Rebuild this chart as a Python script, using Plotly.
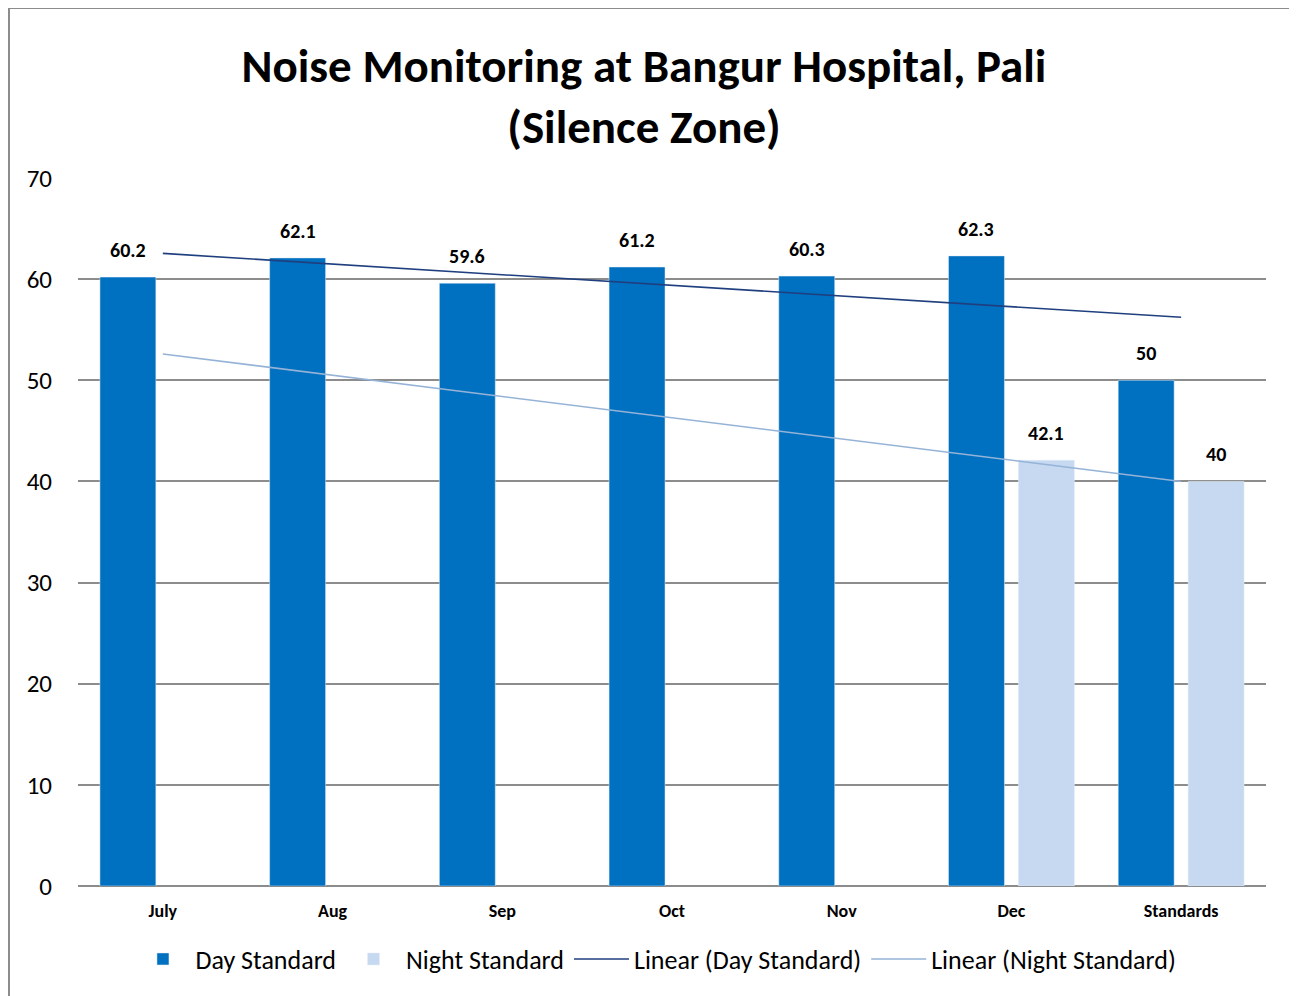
import numpy as np
import plotly.graph_objects as go

categories = ["July", "Aug", "Sep", "Oct", "Nov", "Dec", "Standards"]
day_standard = [60.2, 62.1, 59.6, 61.2, 60.3, 62.3, 50]
night_standard = [None, None, None, None, None, 42.1, 40]
y_ticks = [0, 10, 20, 30, 40, 50, 60, 70]

FONT = "Carlito, Calibri, Lato, sans-serif"


def linear_trend(values):
    xs = np.array([i + 1 for i, v in enumerate(values) if v is not None], dtype=float)
    ys = np.array([v for v in values if v is not None], dtype=float)
    slope, intercept = np.polyfit(xs, ys, 1)
    all_x = np.arange(1, len(values) + 1)
    return list(slope * all_x + intercept)


day_trend = linear_trend(day_standard)
night_trend = linear_trend(night_standard)

label_font = dict(family=FONT, size=20, color="black", weight="bold")

fig = go.Figure()
fig.add_trace(go.Bar(
    x=categories, y=day_standard, name="Day Standard",
    marker=dict(color="#0070C0"),
))
fig.add_trace(go.Bar(
    x=categories, y=night_standard, name="Night Standard",
    marker=dict(color="#C6D9F1"),
))
fig.add_trace(go.Scatter(
    x=categories, y=day_trend, mode="lines", name="Linear (Day Standard)",
    line=dict(color="#1F3F7F", width=1.6),
))
fig.add_trace(go.Scatter(
    x=categories, y=night_trend, mode="lines", name="Linear (Night Standard)",
    line=dict(color="#95B3D7", width=1.6),
))

# data labels above bars
for cat, v in zip(categories, day_standard):
    if v is not None:
        fig.add_annotation(x=cat, y=v, text=str(v), showarrow=False,
                           xshift=-35, yshift=13, yanchor="bottom", font=label_font)
for cat, v in zip(categories, night_standard):
    if v is not None:
        fig.add_annotation(x=cat, y=v, text=str(v), showarrow=False,
                           xshift=35, yshift=13, yanchor="bottom", font=label_font)

# plot area in figure pixels: x 70..1258, y 170..878
L, T, PW, PH = 70, 170, 1188, 708
W, H = 1297, 996

fig.update_layout(
    width=W, height=H,
    margin=dict(l=L, r=W - L - PW, t=T, b=H - T - PH),
    paper_bgcolor="white", plot_bgcolor="white",
    barmode="group", bargap=0.176, bargroupgap=0.2,
    font=dict(family=FONT, color="black"),
    title=dict(
        text="Noise Monitoring at Bangur Hospital, Pali<br>(Silence Zone)",
        x=(636) / W, xanchor="center", y=1 - 74 / H, yanchor="middle",
        font=dict(family=FONT, size=47, color="black", weight="bold"),
    ),
    legend=dict(
        orientation="h", x=0.4865, xanchor="center", y=-0.07, yanchor="top",
        font=dict(family=FONT, size=26, color="black"),
        traceorder="normal", itemwidth=55,
    ),
    showlegend=True,
)
fig.update_xaxes(
    type="category", showgrid=False, showline=False, zeroline=False,
    tickfont=dict(family=FONT, size=18, color="black", weight="bold"),
    ticks="", ticklabelstandoff=12,
)
fig.update_yaxes(
    range=[0, 70], tickvals=y_ticks, showgrid=True, gridcolor="#8C8C8C", gridwidth=1.5,
    zeroline=True, zerolinecolor="#8C8C8C", zerolinewidth=2,
    showline=False, ticks="", ticklabelstandoff=25,
    tickfont=dict(family=FONT, size=25, color="black"),
)
fig.add_shape(
    type="rect", xref="paper", yref="paper",
    x0=(1 - L) / PW, x1=(1287 - L) / PW,
    y0=(T + PH - 1100) / PH, y1=(T + PH - 0) / PH,
    line=dict(color="#8C8C8C", width=2), fillcolor="rgba(0,0,0,0)", layer="below",
)

fig.write_html("out.html")
